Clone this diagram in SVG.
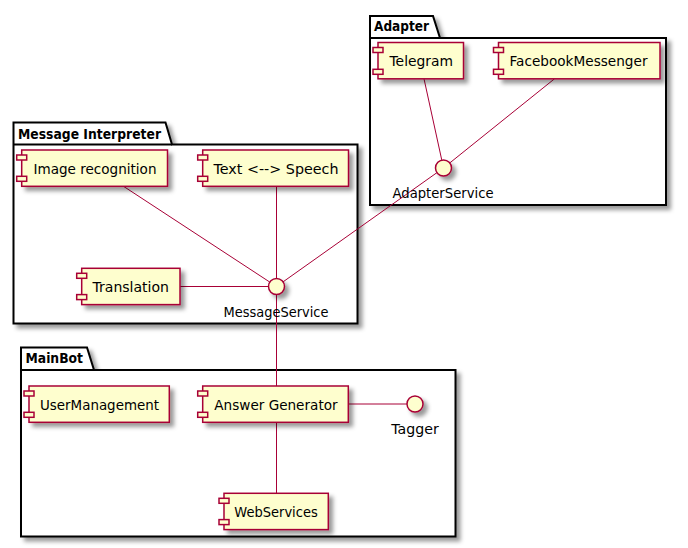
<svg xmlns="http://www.w3.org/2000/svg" width="688" height="548" viewBox="0 0 688 548">
<defs>
<filter id="sh" x="-1" y="-1" width="300%" height="300%">
<feGaussianBlur result="b" stdDeviation="2"/>
<feColorMatrix in="b" result="b2" type="matrix" values="0 0 0 0 0 0 0 0 0 0 0 0 0 0 0 0 0 0 .4 0"/>
<feOffset dx="4" dy="4" in="b2" result="b3"/>
<feBlend in="SourceGraphic" in2="b3" mode="normal"/>
</filter>
<style>
.pkg{fill:#FFFFFF;stroke:#000000;stroke-width:2;filter:url(#sh)}
.pl{stroke:#000000;stroke-width:2}
.pt{font-family:"DejaVu Sans",sans-serif;font-size:14px;font-weight:bold;fill:#000000}
.cb{fill:#FEFECE;stroke:#A80036;stroke-width:1.5;filter:url(#sh)}
.cs{fill:#FEFECE;stroke:#A80036;stroke-width:1.5}
.ct{font-family:"DejaVu Sans",sans-serif;font-size:14px;fill:#000000}
.ifc{fill:#FEFECE;stroke:#A80036;stroke-width:1.5;filter:url(#sh)}
.lk{stroke:#A80036;stroke-width:1;fill:none}
</style>
</defs>
<g id="pkg-adapter">
<polygon class="pkg" points="370,16 433,16 440,38 666,38 666,205 370,205"/>
<line class="pl" x1="370" y1="38" x2="440" y2="38"/>
<text class="pt" x="374" y="31" textLength="55" lengthAdjust="spacingAndGlyphs">Adapter</text>
</g>
<g id="pkg-message-interpreter">
<polygon class="pkg" points="13.5,122.5 165.5,122.5 172,144.5 357.5,144.5 357.5,323.5 13.5,323.5"/>
<line class="pl" x1="13.5" y1="144.5" x2="172" y2="144.5"/>
<text class="pt" x="18" y="138.5" textLength="143" lengthAdjust="spacingAndGlyphs">Message Interpreter</text>
</g>
<g id="pkg-mainbot">
<polygon class="pkg" points="21,347.5 87,347.5 94,370 455.5,370 455.5,536.5 21,536.5"/>
<line class="pl" x1="21" y1="370" x2="94" y2="370"/>
<text class="pt" x="25.5" y="363" textLength="57.5" lengthAdjust="spacingAndGlyphs">MainBot</text>
</g>
<g id="connectors">
<line class="lk" x1="424" y1="78.8" x2="441.8" y2="160.2"/>
<line class="lk" x1="554.5" y1="78.8" x2="449.7" y2="163"/>
<line class="lk" x1="437" y1="172.6" x2="283" y2="281.9"/>
<line class="lk" x1="123.5" y1="186.3" x2="269.8" y2="282.1"/>
<line class="lk" x1="276.5" y1="186.3" x2="276.5" y2="278.5"/>
<line class="lk" x1="180" y1="286.5" x2="268.5" y2="286.5"/>
<line class="lk" x1="276.5" y1="294.5" x2="276.5" y2="386"/>
<line class="lk" x1="276.5" y1="422.3" x2="276.5" y2="493.3"/>
<line class="lk" x1="348.3" y1="404" x2="407" y2="404"/>
</g>
<g id="telegram">
<rect class="cb" x="378" y="42.5" width="85.5" height="36.3"/>
<rect class="cs" x="373" y="47.5" width="10" height="5"/>
<rect class="cs" x="373" y="69.3" width="10" height="5"/>
<text class="ct" x="389.5" y="66" textLength="63.5" lengthAdjust="spacingAndGlyphs">Telegram</text>
</g>
<g id="facebookmessenger">
<rect class="cb" x="498.5" y="42.5" width="161.5" height="36.3"/>
<rect class="cs" x="493.5" y="47.5" width="10" height="5"/>
<rect class="cs" x="493.5" y="69.3" width="10" height="5"/>
<text class="ct" x="509.5" y="66" textLength="138" lengthAdjust="spacingAndGlyphs">FacebookMessenger</text>
</g>
<g id="adapterservice">
<circle class="ifc" cx="443.5" cy="168" r="8"/>
<text class="ct" x="443" y="198" text-anchor="middle" textLength="101" lengthAdjust="spacingAndGlyphs">AdapterService</text>
</g>
<g id="image-recognition">
<rect class="cb" x="21.7" y="150" width="145.8" height="36.3"/>
<rect class="cs" x="16.7" y="155" width="10" height="5"/>
<rect class="cs" x="16.7" y="176.3" width="10" height="5"/>
<text class="ct" x="33.5" y="173.5" textLength="123" lengthAdjust="spacingAndGlyphs">Image recognition</text>
</g>
<g id="text-speech">
<rect class="cb" x="202.7" y="150" width="145.8" height="36.3"/>
<rect class="cs" x="197.7" y="155" width="10" height="5"/>
<rect class="cs" x="197.7" y="176.3" width="10" height="5"/>
<text class="ct" x="213.5" y="173.5" textLength="125" lengthAdjust="spacingAndGlyphs">Text &lt;--&gt; Speech</text>
</g>
<g id="translation">
<rect class="cb" x="81.7" y="268.3" width="98.3" height="36.3"/>
<rect class="cs" x="76.7" y="273.3" width="10" height="5"/>
<rect class="cs" x="76.7" y="294.6" width="10" height="5"/>
<text class="ct" x="92.5" y="291.8" textLength="76.5" lengthAdjust="spacingAndGlyphs">Translation</text>
</g>
<g id="messageservice">
<circle class="ifc" cx="276.5" cy="286.5" r="8"/>
<text class="ct" x="276" y="316.5" text-anchor="middle" textLength="105" lengthAdjust="spacingAndGlyphs">MessageService</text>
</g>
<g id="usermanagement">
<rect class="cb" x="29" y="386" width="140.3" height="36.3"/>
<rect class="cs" x="24" y="391" width="10" height="5"/>
<rect class="cs" x="24" y="412.3" width="10" height="5"/>
<text class="ct" x="40" y="409.5" textLength="119" lengthAdjust="spacingAndGlyphs">UserManagement</text>
</g>
<g id="answer-generator">
<rect class="cb" x="202.7" y="386" width="145.6" height="36.3"/>
<rect class="cs" x="197.7" y="391" width="10" height="5"/>
<rect class="cs" x="197.7" y="412.3" width="10" height="5"/>
<text class="ct" x="214.3" y="409.5" textLength="123.3" lengthAdjust="spacingAndGlyphs">Answer Generator</text>
</g>
<g id="tagger">
<circle class="ifc" cx="415" cy="404" r="8"/>
<text class="ct" x="415" y="434" text-anchor="middle" textLength="47.5" lengthAdjust="spacingAndGlyphs">Tagger</text>
</g>
<g id="webservices">
<rect class="cb" x="224" y="493.3" width="104.3" height="36.3"/>
<rect class="cs" x="219" y="498.3" width="10" height="5"/>
<rect class="cs" x="219" y="519.6" width="10" height="5"/>
<text class="ct" x="234.3" y="516.8" textLength="83.4" lengthAdjust="spacingAndGlyphs">WebServices</text>
</g>
</svg>
